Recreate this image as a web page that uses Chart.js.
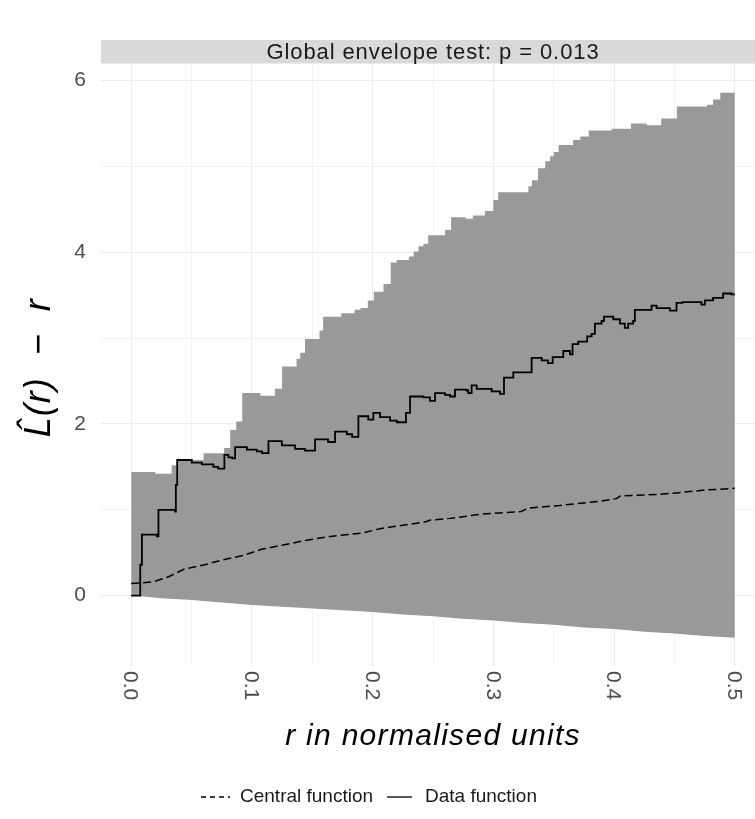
<!DOCTYPE html>
<html>
<head>
<meta charset="utf-8">
<script src="https://cdn.jsdelivr.net/npm/chart.js@4.4.1/dist/chart.umd.min.js"></script>
<style>
  html, body { margin: 0; padding: 0; background: #fff; overflow: hidden; }
  #wrap { width: 770px; height: 819px; }
</style>
</head>
<body>
<div id="wrap"><canvas id="envChart" width="770" height="819"></canvas></div>
<script>
// envelope (upper / lower), central function and data function
const rUpper = [0, 0.020, 0.0335, 0.038, 0.060, 0.077, 0.082, 0.087, 0.092, 0.107, 0.119, 0.125, 0.137, 0.140, 0.144, 0.156, 0.159, 0.174, 0.185, 0.190, 0.196, 0.201, 0.209, 0.215, 0.220, 0.230, 0.234, 0.238, 0.242, 0.246, 0.260, 0.265, 0.277, 0.283, 0.293, 0.300, 0.304, 0.329, 0.332, 0.337, 0.343, 0.347, 0.350, 0.354, 0.366, 0.372, 0.379, 0.398, 0.414, 0.427, 0.439, 0.452, 0.477, 0.482, 0.488, 0.500];
const upperVals = [1.44, 1.42, 1.52, 1.58, 1.66, 1.72, 1.93, 2.03, 2.36, 2.33, 2.41, 2.67, 2.76, 2.83, 2.99, 3.09, 3.25, 3.29, 3.33, 3.35, 3.44, 3.54, 3.63, 3.88, 3.91, 3.95, 4.01, 4.07, 4.10, 4.20, 4.26, 4.41, 4.39, 4.43, 4.48, 4.61, 4.70, 4.77, 4.84, 4.98, 5.06, 5.12, 5.17, 5.25, 5.31, 5.35, 5.42, 5.44, 5.50, 5.48, 5.56, 5.70, 5.72, 5.78, 5.86, 5.86];

const rLower = [0, 0.010, 0.025, 0.050, 0.075, 0.100, 0.125, 0.150, 0.175, 0.200, 0.225, 0.250, 0.275, 0.300, 0.325, 0.350, 0.375, 0.400, 0.425, 0.450, 0.475, 0.500];
const lowerVals = [0.00, -0.01, -0.03, -0.05, -0.08, -0.11, -0.13, -0.15, -0.17, -0.19, -0.22, -0.24, -0.27, -0.29, -0.32, -0.34, -0.37, -0.39, -0.42, -0.44, -0.47, -0.49];

const rCentral = [0, 0.018, 0.031, 0.044, 0.061, 0.074, 0.093, 0.108, 0.126, 0.143, 0.165, 0.192, 0.206, 0.215, 0.244, 0.248, 0.264, 0.275, 0.290, 0.323, 0.329, 0.355, 0.388, 0.402, 0.405, 0.438, 0.454, 0.475, 0.500];
const centralVals = [0.14, 0.16, 0.22, 0.31, 0.36, 0.41, 0.47, 0.54, 0.59, 0.64, 0.69, 0.73, 0.78, 0.80, 0.86, 0.88, 0.90, 0.92, 0.95, 0.98, 1.02, 1.05, 1.10, 1.13, 1.16, 1.18, 1.20, 1.23, 1.25];

const rData = [0, 0.0075, 0.0089, 0.0213, 0.0226, 0.0364, 0.037, 0.0381, 0.0502, 0.0585, 0.0681, 0.072, 0.0772, 0.0805, 0.0836, 0.0861, 0.0958, 0.1041, 0.1084, 0.1137, 0.1248, 0.1358, 0.144, 0.1523, 0.1631, 0.1689, 0.1786, 0.183, 0.1882, 0.1964, 0.2006, 0.2061, 0.2144, 0.22, 0.2276, 0.231, 0.242, 0.2475, 0.2517, 0.2599, 0.2641, 0.2682, 0.2779, 0.2792, 0.282, 0.2862, 0.2986, 0.3055, 0.3088, 0.3165, 0.3317, 0.34, 0.3452, 0.3491, 0.3579, 0.3634, 0.3656, 0.3703, 0.3777, 0.3814, 0.3841, 0.3896, 0.3916, 0.3993, 0.4048, 0.4089, 0.4117, 0.4158, 0.4172, 0.431, 0.4352, 0.4462, 0.4517, 0.4567, 0.4724, 0.4752, 0.482, 0.4903, 0.4973, 0.5];
const dataVals = [0.00, 0.36, 0.71, 0.69, 1.00, 0.98, 1.29, 1.58, 1.55, 1.53, 1.50, 1.48, 1.64, 1.61, 1.60, 1.73, 1.70, 1.68, 1.66, 1.80, 1.75, 1.71, 1.69, 1.82, 1.79, 1.91, 1.88, 1.85, 2.09, 2.05, 2.13, 2.08, 2.04, 2.02, 2.13, 2.32, 2.31, 2.27, 2.36, 2.34, 2.32, 2.40, 2.39, 2.36, 2.45, 2.41, 2.38, 2.35, 2.54, 2.60, 2.77, 2.74, 2.71, 2.78, 2.85, 2.81, 2.93, 2.96, 3.02, 3.05, 3.17, 3.20, 3.25, 3.22, 3.17, 3.12, 3.17, 3.20, 3.33, 3.38, 3.35, 3.32, 3.41, 3.42, 3.39, 3.44, 3.47, 3.52, 3.51, 3.51];

// grid positions (major + minor) and labels
const xGrid = [0, 0.05, 0.1, 0.15, 0.2, 0.25, 0.3, 0.35, 0.4, 0.45, 0.5];
const yGrid = [0, 1, 2, 3, 4, 5, 6];
const xTickVals = [0, 0.1, 0.2, 0.3, 0.4, 0.5];
const xTickLabels = ['0.0', '0.1', '0.2', '0.3', '0.4', '0.5'];
const stripText = 'Global envelope test: p = 0.013';
const xTitle = 'r in normalised units';
const yTitle = 'L\u0302(r)  \u2212  r';
const legendItems = ['Central function', 'Data function'];

const FONT = '"Liberation Sans", Arial, sans-serif';

function toXY(xs, ys) {
  return xs.map((x, i) => ({ x: x, y: ys[i] }));
}

// grey strip with the test result above the panel
const stripPlugin = {
  id: 'strip',
  beforeDraw(chart) {
    const { ctx, chartArea } = chart;
    ctx.save();
    ctx.fillStyle = '#d9d9d9';
    ctx.fillRect(chartArea.left, 40, chartArea.right - chartArea.left, chartArea.top - 40);
    ctx.fillStyle = '#1a1a1a';
    ctx.font = '22px ' + FONT;
    ctx.letterSpacing = '0.9px';
    ctx.textAlign = 'center';
    ctx.textBaseline = 'middle';
    ctx.fillText(stripText, (chartArea.left + chartArea.right) / 2, (40 + chartArea.top) / 2 + 1);
    ctx.restore();
  }
};

// rotated x labels, axis titles and the legend
const textPlugin = {
  id: 'texts',
  afterDraw(chart) {
    const { ctx, chartArea } = chart;
    const xs = chart.scales.x;
    ctx.save();
    ctx.fillStyle = '#4d4d4d';
    ctx.font = '21px ' + FONT;
    xTickVals.forEach((v, i) => {
      ctx.save();
      ctx.translate(xs.getPixelForValue(v), chartArea.bottom + 5);
      ctx.rotate(Math.PI / 2);
      ctx.textAlign = 'left';
      ctx.textBaseline = 'middle';
      ctx.fillText(xTickLabels[i], 0, 1);
      ctx.restore();
    });

    ctx.fillStyle = '#000';
    ctx.font = 'italic 30px ' + FONT;
    ctx.letterSpacing = '1.3px';
    ctx.textAlign = 'center';
    ctx.textBaseline = 'middle';
    ctx.fillText(xTitle, (chartArea.left + chartArea.right) / 2, 737);

    ctx.save();
    ctx.translate(40, (chartArea.top + chartArea.bottom) / 2 + 3);
    ctx.rotate(-Math.PI / 2);
    ctx.font = 'italic 36px ' + FONT;
    ctx.letterSpacing = '1px';
    ctx.fillText(yTitle, 0, 0);
    ctx.restore();

    // legend
    ctx.letterSpacing = '0px';
    const ly = 797;
    ctx.strokeStyle = '#000';
    ctx.lineWidth = 1.3;
    ctx.setLineDash([5, 4]);
    ctx.beginPath();
    ctx.moveTo(201, ly);
    ctx.lineTo(230, ly);
    ctx.stroke();
    ctx.setLineDash([]);
    ctx.beginPath();
    ctx.moveTo(387, ly);
    ctx.lineTo(412, ly);
    ctx.stroke();
    ctx.fillStyle = '#1a1a1a';
    ctx.font = '19px ' + FONT;
    ctx.textAlign = 'left';
    ctx.fillText(legendItems[0], 240, ly);
    ctx.fillText(legendItems[1], 425, ly);
    ctx.restore();
  }
};

const isMajorX = v => Math.round(v * 20) % 2 === 0;
const isMajorY = v => Math.round(v) % 2 === 0;

new Chart(document.getElementById('envChart'), {
  type: 'line',
  data: {
    datasets: [
      { label: legendItems[1], data: toXY(rData, dataVals), borderColor: '#000', borderWidth: 1.8,
        stepped: true, pointRadius: 0, fill: false, order: 0 },
      { label: legendItems[0], data: toXY(rCentral, centralVals), borderColor: '#000', borderWidth: 1.5,
        borderDash: [8, 4], pointRadius: 0, fill: false, order: 1 },
      { label: 'upper', data: toXY(rUpper, upperVals), borderColor: 'rgba(0,0,0,0)', backgroundColor: '#999999',
        stepped: true, pointRadius: 0, fill: '+1', order: 2 },
      { label: 'lower', data: toXY(rLower, lowerVals), borderColor: 'rgba(0,0,0,0)',
        pointRadius: 0, fill: false, order: 3 }
    ]
  },
  options: {
    responsive: false,
    animation: false,
    layout: { padding: { top: 63.5, right: 5, bottom: 53, left: 0 } },
    plugins: { legend: { display: false }, tooltip: { enabled: false } },
    scales: {
      x: {
        type: 'linear', min: -0.025, max: 0.525,
        border: { display: false },
        afterBuildTicks: s => { s.ticks = xGrid.map(v => ({ value: v })); },
        ticks: { display: false, autoSkip: false },
        grid: { drawTicks: false, color: '#ebebeb', lineWidth: c => isMajorX(c.tick.value) ? 1.1 : 0.6 },
        afterFit: s => { s.height = 100; }
      },
      y: {
        type: 'linear', min: -0.82, max: 6.2,
        border: { display: false },
        afterBuildTicks: s => { s.ticks = yGrid.map(v => ({ value: v })); },
        ticks: { autoSkip: false, padding: 15, color: '#4d4d4d',
          font: { family: FONT, size: 21 }, callback: v => isMajorY(v) ? String(v) : '' },
        grid: { drawTicks: false, color: '#ebebeb', lineWidth: c => isMajorY(c.tick.value) ? 1.1 : 0.6 },
        afterFit: s => { s.width = 101; }
      }
    }
  },
  plugins: [stripPlugin, textPlugin]
});
</script>
</body>
</html>
